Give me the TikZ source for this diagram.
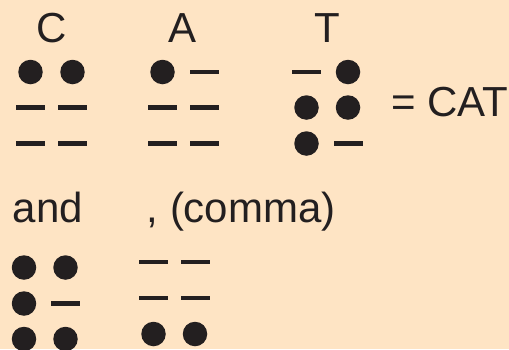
\documentclass[tikz,border=0pt]{standalone}
\usepackage{fontspec}
\setmainfont{Liberation Sans}
\definecolor{bg}{RGB}{254,228,196}
\definecolor{ink}{RGB}{35,31,32}
\tikzset{
  lbl/.style={inner sep=0pt, text=ink, font=\fontsize{42}{50}\selectfont},
  brdot/.style={circle, fill=ink, minimum size=24.5pt, inner sep=0pt},
  brdash/.style={rectangle, fill=ink, minimum width=29pt, minimum height=4.6pt, inner sep=0pt}
}
\begin{document}
\begin{tikzpicture}[x=1pt,y=-1pt]
\fill[bg] (0,0) rectangle (509,349);
\useasboundingbox (0,0) rectangle (509,349);
% letters
\node[lbl, anchor=base] (lC) at (51.5,42.5) {C};
\node[lbl, anchor=base] (lA) at (183,42.5) {A};
\node[lbl, anchor=base] (lT) at (327,42.5) {T};
\node[lbl, anchor=base east] (eq) at (508.5,116) {= CAT};
\node[lbl, anchor=base west] (and) at (12.5,222.5) {and};
\node[lbl, anchor=base west] (comma) at (146.5,222.5) {, (comma)};
% C
\node[brdot] (c1) at (30.5,72) {};
\node[brdot] (c4) at (72.5,72) {};
\node[brdash] (c2) at (30.5,107.5) {};
\node[brdash] (c5) at (72.5,107.5) {};
\node[brdash] (c3) at (30.5,143.5) {};
\node[brdash] (c6) at (72.5,143.5) {};
% A
\node[brdot] (a1) at (162.5,72) {};
\node[brdash] (a4) at (204.5,72) {};
\node[brdash] (a2) at (162.5,107.5) {};
\node[brdash] (a5) at (204.5,107.5) {};
\node[brdash] (a3) at (162.5,143.5) {};
\node[brdash] (a6) at (204.5,143.5) {};
% T
\node[brdash] (t1) at (306.5,72) {};
\node[brdot] (t4) at (348,72) {};
\node[brdot] (t2) at (306.5,107.5) {};
\node[brdot] (t5) at (348,107.5) {};
\node[brdot] (t3) at (306.5,143.5) {};
\node[brdash] (t6) at (348,143.5) {};
% and
\node[brdot] (n1) at (24,267.5) {};
\node[brdot] (n4) at (65.5,267.5) {};
\node[brdot] (n2) at (24,303.5) {};
\node[brdash] (n5) at (65.5,303.5) {};
\node[brdot] (n3) at (24,339) {};
\node[brdot] (n6) at (65.5,339) {};
% comma
\node[brdash] (m1) at (153.5,262) {};
\node[brdash] (m4) at (195.5,262) {};
\node[brdash] (m2) at (153.5,298) {};
\node[brdash] (m5) at (195.5,298) {};
\node[brdot] (m3) at (153.5,334) {};
\node[brdot] (m6) at (195,334) {};
\end{tikzpicture}
\end{document}
